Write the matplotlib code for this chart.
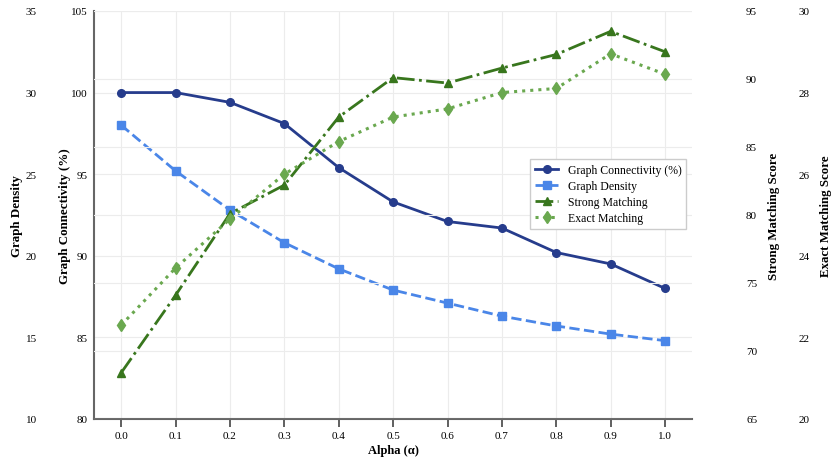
import matplotlib.pyplot as plt
import numpy as np

plt.rcParams['font.family'] = ['Liberation Serif', 'DejaVu Serif']

# Data
alpha = [0.0, 0.1, 0.2, 0.3, 0.4, 0.5, 0.6, 0.7, 0.8, 0.9, 1.0]
connectivity = [100.0, 100.0, 99.4, 98.1, 95.4, 93.3, 92.1, 91.7, 90.2, 89.5, 88.0]
density = [28.0, 25.2, 22.8, 20.8, 19.2, 17.9, 17.1, 16.3, 15.7, 15.2, 14.8]
strong = [68.4, 74.1, 80.1, 82.2, 87.2, 90.1, 89.7, 90.8, 91.8, 93.5, 92.0]
exact = [22.3, 23.7, 24.9, 26.0, 26.8, 27.4, 27.6, 28.0, 28.1, 28.95, 28.45]

c_conn = '#263c8c'
c_dens = '#4a86e8'
c_strong = '#38761d'
c_exact = '#6aa84f'
grid_c = '#ececec'
tick_fs = 8
label_fs = 9.4

fig, ax = plt.subplots(figsize=(8.32, 4.6), dpi=100)
fig.subplots_adjust(left=0.113, right=0.832, bottom=0.087, top=0.974)

# main axis: connectivity
l1, = ax.plot(alpha, connectivity, '-o', color=c_conn, lw=2, ms=5.5, label='Graph Connectivity (%)', zorder=5)
ax.set_ylim(80, 105)
ax.set_xlim(-0.05, 1.05)
ax.set_xticks(alpha)
ax.set_xticklabels([f'{a:.1f}' for a in alpha])
ax.set_ylabel('Graph Connectivity (%)', fontweight='bold', fontsize=label_fs, labelpad=0.2)
ax.set_xlabel('Alpha (α)', fontweight='bold', fontsize=9, labelpad=3)
ax.grid(True, color=grid_c, lw=0.8)
ax.set_axisbelow(True)
for s in ['top', 'right']:
    ax.spines[s].set_visible(False)
for s in ['left', 'bottom']:
    ax.spines[s].set_color('#666666')
    ax.spines[s].set_linewidth(1.5)
ax.tick_params(axis='y', length=0, pad=4.3, labelsize=tick_fs)
ax.tick_params(axis='x', length=5.5, width=1.2, color='#444444', pad=3, labelsize=tick_fs)

# density axis on the outer left
ax_d = ax.twinx()
ax_d.yaxis.set_ticks_position('left')
ax_d.yaxis.set_label_position('left')
ax_d.spines['left'].set_position(('outward', 37))
l2, = ax_d.plot(alpha, density, '--s', color=c_dens, lw=2, ms=5.8, label='Graph Density', zorder=5)
ax_d.set_ylim(10, 35)
ax_d.set_ylabel('Graph Density', fontweight='bold', fontsize=label_fs, labelpad=2)
ax_d.tick_params(axis='y', length=0, pad=4.3, labelsize=tick_fs)

# strong matching axis on the right
ax_s = ax.twinx()
ax_s.spines['right'].set_position(('outward', 34.5))
l3, = ax_s.plot(alpha, strong, '-.^', color=c_strong, lw=2, ms=6, label='Strong Matching', zorder=5)
ax_s.set_ylim(65, 95)
ax_s.set_ylabel('Strong Matching Score', fontweight='bold', fontsize=9.3, labelpad=7.5)
ax_s.tick_params(axis='y', length=0, pad=4.3, labelsize=tick_fs)
ax_s.grid(True, axis='y', color=grid_c, lw=0.8)

# exact matching axis on the far right
ax_e = ax.twinx()
ax_e.spines['right'].set_position(('outward', 72))
l4, = ax_e.plot(alpha, exact, ':d', color=c_exact, lw=2.2, ms=6.5, label='Exact Matching', zorder=5)
ax_e.set_ylim(20, 30)
ax_e.set_yticks(np.arange(20, 31, 2))
ax_e.set_ylabel('Exact Matching Score', fontweight='bold', fontsize=9.3, labelpad=8)
ax_e.tick_params(axis='y', length=0, pad=4.3, labelsize=tick_fs)

for a in [ax_d, ax_s, ax_e]:
    for s in a.spines.values():
        s.set_visible(False)

lines = [l1, l2, l3, l4]
ax_e.legend(lines, [l.get_label() for l in lines], loc='center right',
            bbox_to_anchor=(0.99, 0.551), borderaxespad=0, fontsize=8.5,
            labelspacing=0.35, frameon=True, fancybox=False,
            edgecolor='#cccccc', framealpha=1)

plt.savefig('out.png', dpi=100)
